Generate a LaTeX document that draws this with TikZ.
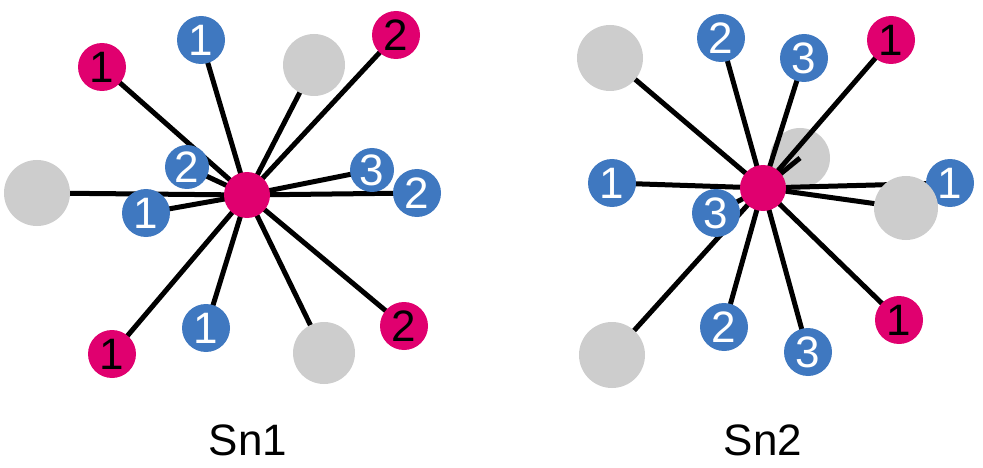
\documentclass[tikz,border=0pt]{standalone}
\usepackage{fontspec}
\setmainfont{Liberation Sans}
\usetikzlibrary{backgrounds}
\definecolor{mag}{HTML}{E0006F}
\definecolor{blu}{HTML}{3F78C0}
\definecolor{gry}{HTML}{CDCDCD}
\tikzset{
 bn/.style={circle,fill=blu,minimum size=48pt,inner sep=0pt,text=white,font=\fontsize{44}{44}\selectfont},
 mn/.style={circle,fill=mag,minimum size=48pt,inner sep=0pt,text=black,font=\fontsize{44}{44}\selectfont},
 gn/.style={circle,fill=gry,minimum size=62pt,inner sep=0pt},
 cn/.style={circle,fill=mag,minimum size=46pt,inner sep=0pt},
 bond/.style={line width=5pt,black},
 lab/.style={font=\fontsize{44}{44}\selectfont}
}
\begin{document}
\begin{tikzpicture}[x=1pt,y=-1pt]
\useasboundingbox (0,0) rectangle (983,468);
% left
\node[mn] (l1) at (102,67) {1};
\node[bn] (l2) at (201,40) {1};
\node[gn] (l3) at (314,65) {};
\node[mn] (l4) at (396,35) {2};
\node[gn,minimum size=66pt] (l5) at (37,193) {};
\node[bn,minimum size=44pt] (l6) at (187,167) {2};
\node[bn,minimum size=44pt] (l7) at (372,170) {3};
\node[bn] (l8) at (417,193) {2};
\node[bn] (l9) at (146,213) {1};
\node[mn] (l10) at (112,354) {1};
\node[bn] (l11) at (206,328) {1};
\node[gn] (l12) at (324,353) {};
\node[mn] (l13) at (404,326) {2};
\node[cn] (c1) at (247,195) {};
\begin{scope}[on background layer]
\foreach \n in {l1,l2,l3,l4,l5,l6,l7,l8,l9,l10,l11,l12,l13} \draw[bond] (c1.center) -- (\n.center);
\end{scope}
% right
\node[gn,minimum size=66pt] (r1) at (610,58) {};
\node[bn] (r2) at (721,38) {2};
\node[bn] (r3) at (804,58) {3};
\node[mn] (r4) at (891,40) {1};
\node[bn] (r6) at (612,183) {1};
\node[bn] (r7) at (950,183) {1};
\node[gn,minimum size=64pt] (r8) at (906,208) {};
\node[bn] (r9) at (716,213) {3};
\node[gn,minimum size=66pt] (r10) at (612,355) {};
\node[bn] (r11) at (724,327) {2};
\node[bn] (r12) at (808,352) {3};
\node[mn] (r13) at (899,320) {1};
\node[cn] (c2) at (763,188) {};
\begin{scope}[on background layer]
\node[gn,minimum size=60pt] (r5) at (800,158) {};
\foreach \n in {r1,r2,r3,r4,r5,r6,r7,r8,r9,r10,r11,r12,r13} \draw[bond] (c2.center) -- (\n.center);
\end{scope}
\node[lab] (s1) at (248,440) {Sn1};
\node[lab] (s2) at (763,440) {Sn2};
\end{tikzpicture}
\end{document}
